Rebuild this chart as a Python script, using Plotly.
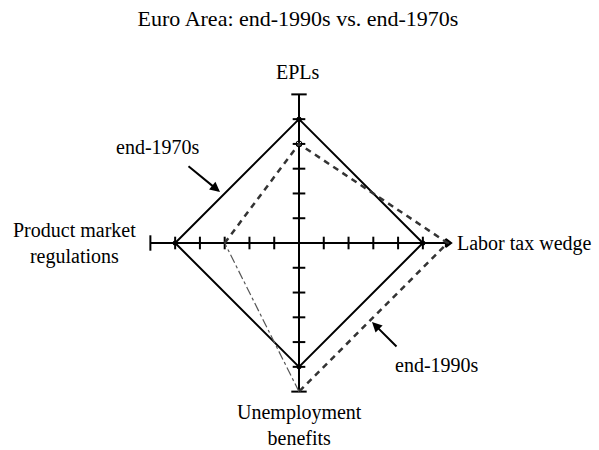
import math
import plotly.graph_objects as go

# ---- data ----
dimensions = ["EPLs", "Labor tax wedge", "Unemployment benefits", "Product market regulations"]
angles_deg = [90, 0, 270, 180]
end_1970s = [5, 5, 5, 5]
end_1990s = [4, 6, 6, 3]
axis_ticks = [1, 2, 3, 4, 5]
axis_max = 6

W, H = 599, 450
L, R, T, B = 138, 139, 82, 46
RNG = 6.5
FONT = "Liberation Serif, Times New Roman, serif"


def polar_xy(vals, order):
    xs = [vals[i] * math.cos(math.radians(angles_deg[i])) for i in order]
    ys = [vals[i] * math.sin(math.radians(angles_deg[i])) for i in order]
    return xs, ys


def px(x, y):
    """pixel -> paper coords"""
    return (x - L) / (W - L - R), 1 - (y - T) / (H - T - B)


fig = go.Figure()

# cross axes
for a in angles_deg:
    c, s = math.cos(math.radians(a)), math.sin(math.radians(a))
    fig.add_trace(go.Scatter(x=[0, axis_max * c], y=[0, axis_max * s], mode="lines",
                             line=dict(color="black", width=2), hoverinfo="skip", showlegend=False))
    horiz = abs(c) > 0.5
    fig.add_trace(go.Scatter(x=[t * c for t in axis_ticks], y=[t * s for t in axis_ticks], mode="markers",
                             marker=dict(symbol="line-ns" if horiz else "line-ew", size=9,
                                         line=dict(color="black", width=2)),
                             hoverinfo="skip", showlegend=False))
    end_sym = ("triangle-right" if c > 0.5 else "line-ns") if horiz else "line-ew"
    fig.add_trace(go.Scatter(x=[axis_max * c], y=[axis_max * s], mode="markers",
                             marker=dict(symbol=end_sym, size=11 if end_sym != "triangle-right" else 7,
                                         color="black", line=dict(color="black", width=2)),
                             hoverinfo="skip", showlegend=False))

# series: end-1970s (solid)
x70, y70 = polar_xy(end_1970s, [0, 1, 2, 3, 0])
fig.add_trace(go.Scatter(x=x70, y=y70, mode="lines+markers", name="end-1970s",
                         line=dict(color="black", width=2),
                         marker=dict(symbol="circle", size=5, color="black"), showlegend=False))
# series: end-1990s (dashed)
x90, y90 = polar_xy(end_1990s, [3, 0, 1, 2])
fig.add_trace(go.Scatter(x=x90, y=y90, mode="lines", name="end-1990s",
                         line=dict(color="#333333", width=2.5, dash="6px,5px"), showlegend=False))
x90b, y90b = polar_xy(end_1990s, [2, 3])
fig.add_trace(go.Scatter(x=x90b, y=y90b, mode="lines", name="end-1990s",
                         line=dict(color="#555555", width=1.2, dash="dashdot"), showlegend=False))
x90m, y90m = polar_xy(end_1990s, [0])
fig.add_trace(go.Scatter(x=x90m, y=y90m, mode="markers", name="end-1990s",
                         marker=dict(symbol="circle-open", size=6, color="black"), showlegend=False))

ann = []
def text(x, y, t, size=20, xanchor="center"):
    xp, yp = px(x, y)
    ann.append(dict(x=xp, y=yp, xref="paper", yref="paper", text=t, showarrow=False,
                    xanchor=xanchor, yanchor="middle", font=dict(family=FONT, size=size, color="black")))

text(298, 72, "EPLs")
text(455, 243, "Labor tax wedge", xanchor="left")
text(74, 243, "Product market<br>regulations")
text(299, 425, "Unemployment<br>benefits")
text(158, 147, "end-1970s")
text(437, 365, "end-1990s")

for head, tail in [((220, 192), (187, 165)), ((372, 322), (398, 348))]:
    xp, yp = px(*head)
    ann.append(dict(x=xp, y=yp, xref="paper", yref="paper", showarrow=True, text="",
                    ax=tail[0] - head[0], ay=tail[1] - head[1], arrowhead=2, arrowsize=1,
                    arrowwidth=2, arrowcolor="black"))

fig.update_layout(
    width=W, height=H,
    margin=dict(l=L, r=R, t=T, b=B),
    paper_bgcolor="white", plot_bgcolor="white",
    title=dict(text="Euro Area: end-1990s vs. end-1970s", x=298 / W, xanchor="center",
               y=1 - 18 / H, yanchor="middle", font=dict(family=FONT, size=22, color="black")),
    xaxis=dict(range=[-RNG, RNG], visible=False, fixedrange=True),
    yaxis=dict(range=[-RNG, RNG], visible=False, fixedrange=True),
    annotations=ann,
    showlegend=False,
)

fig.write_html("out.html", config={"displayModeBar": False},
               post_script="document.body.style.margin='0';document.body.style.overflow='hidden';")
